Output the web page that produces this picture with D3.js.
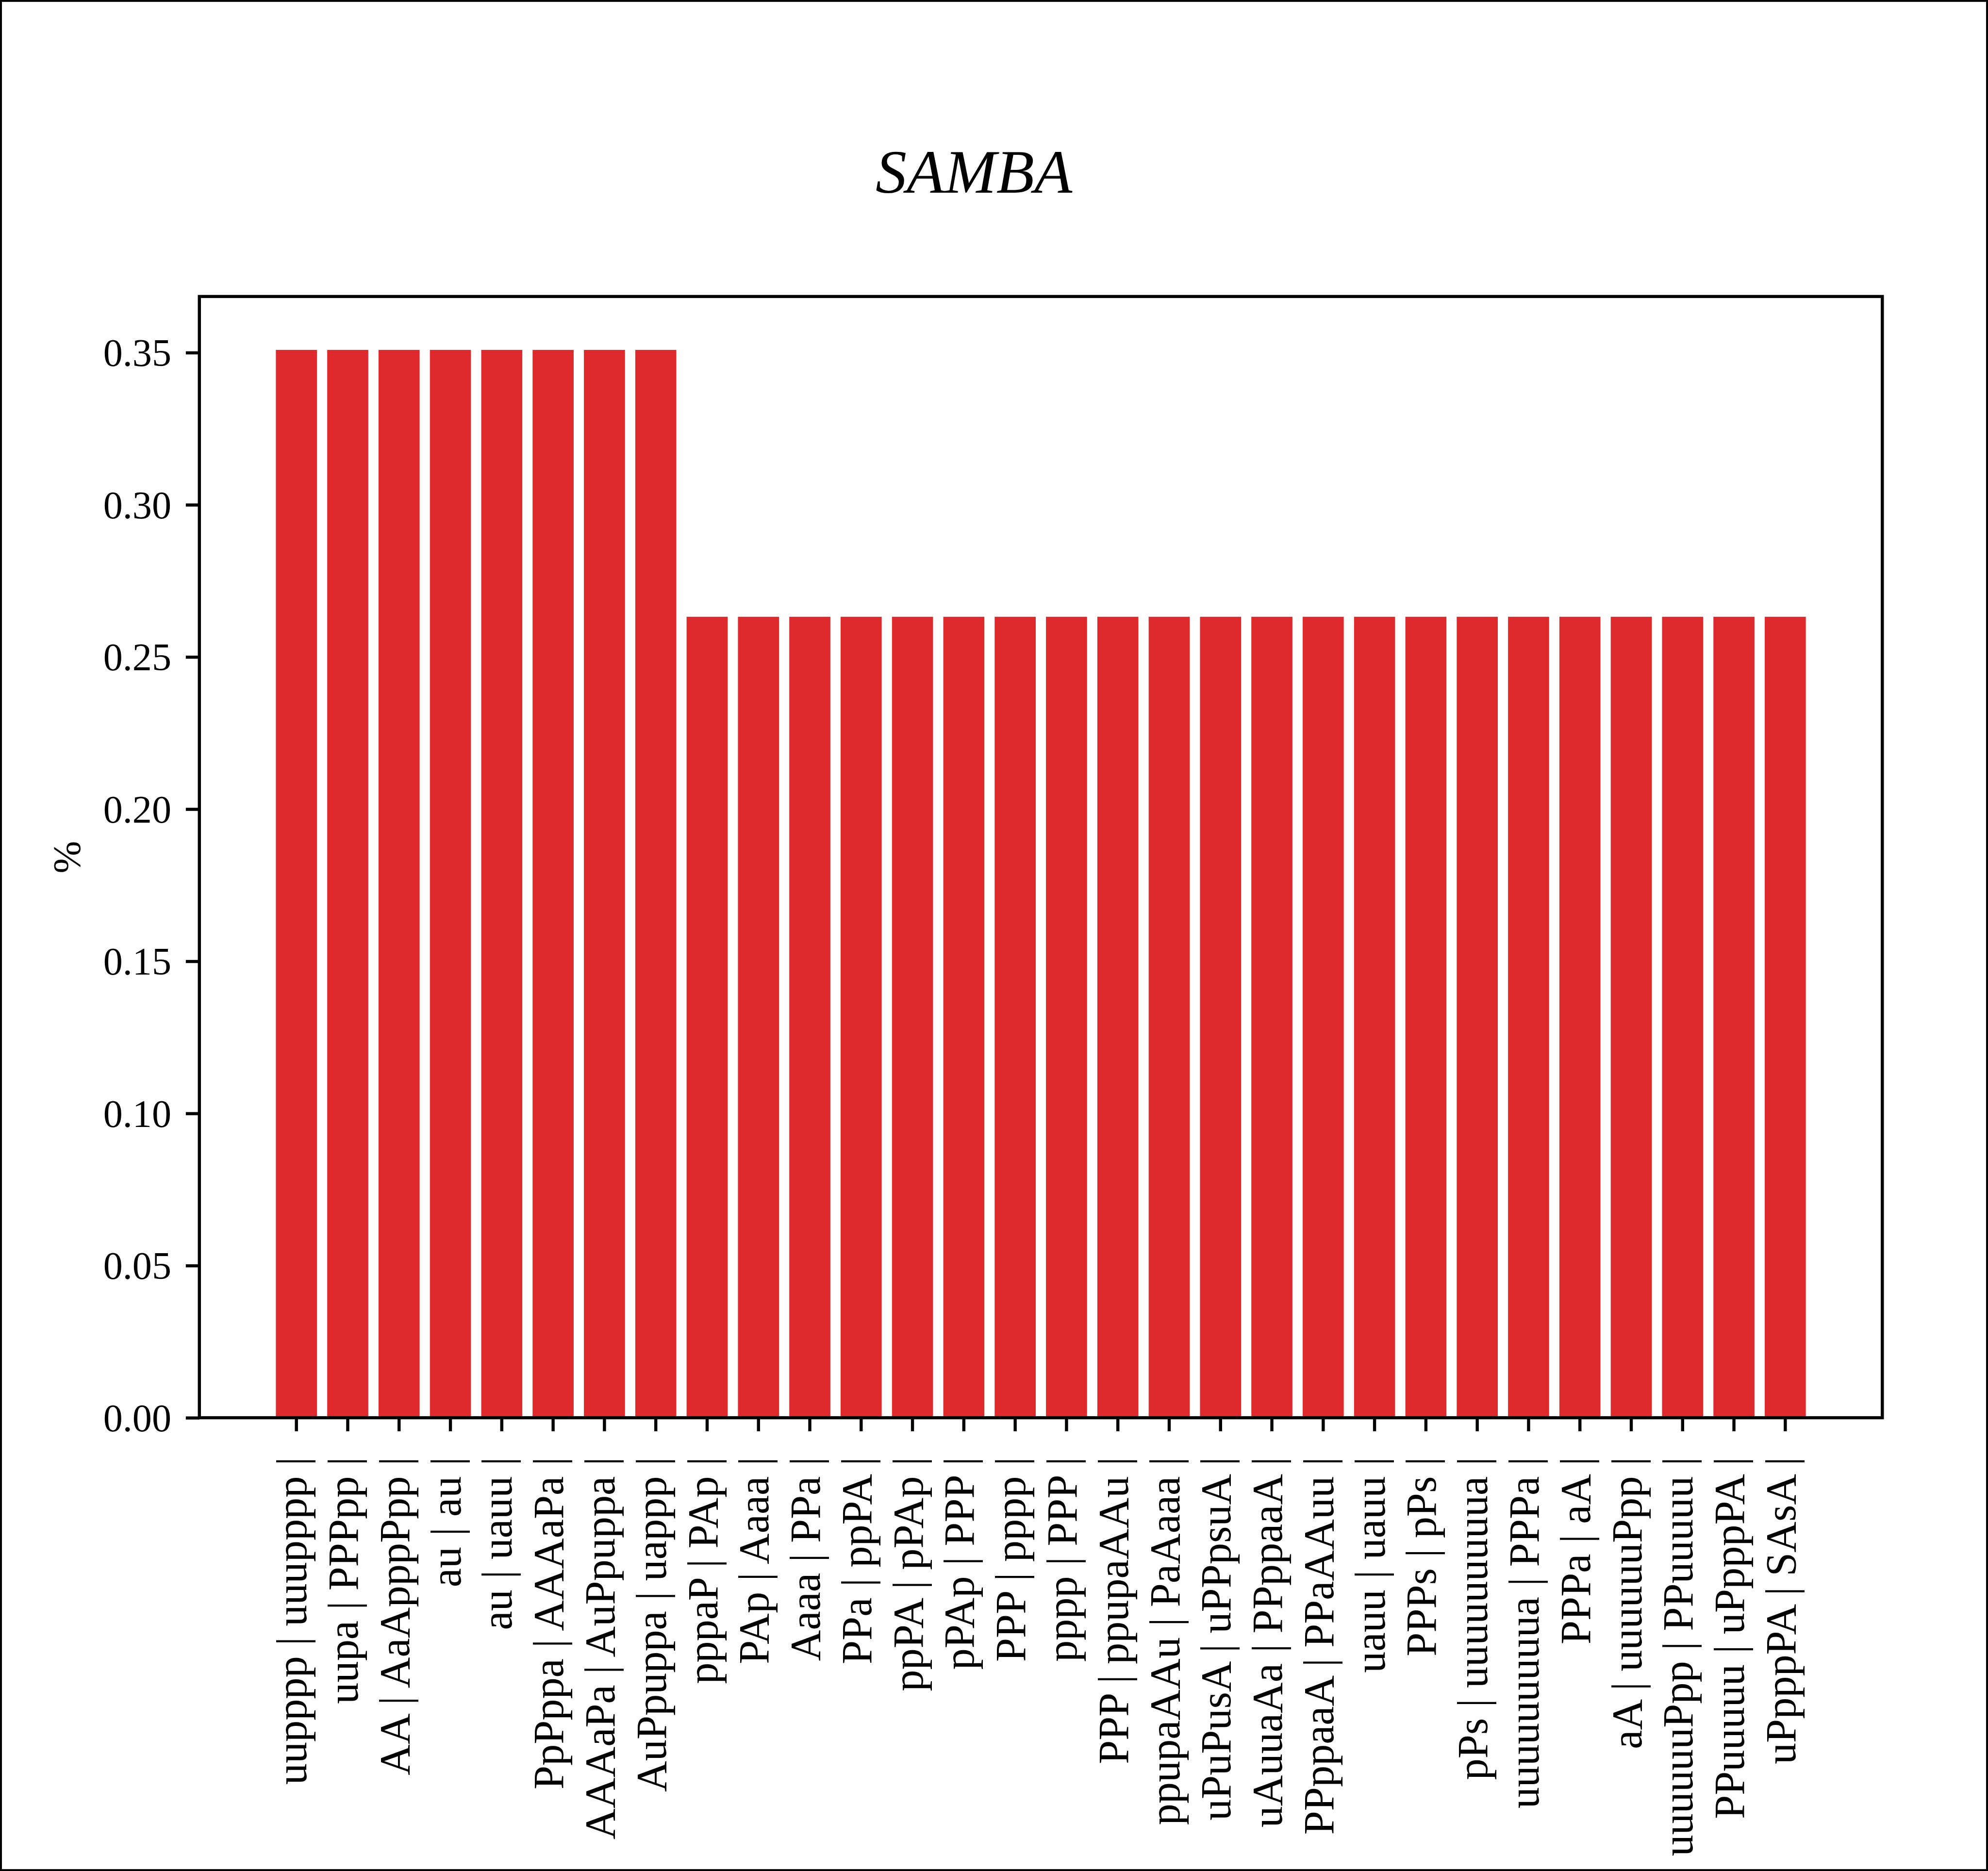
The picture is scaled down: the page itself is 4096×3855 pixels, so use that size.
<!DOCTYPE html>
<html>
<head>
<meta charset="utf-8">
<script src="https://cdn.jsdelivr.net/npm/d3@7"></script>
<style>
  html, body { margin: 0; padding: 0; background: #ffffff; overflow: hidden; }
  svg { display: block; }
</style>
</head>
<body>
<svg id="chart"></svg>
<script>
// ---------------- data ----------------
const categories = [
  "uupppp | uuupppp |",
  "uupa | PPPpp |",
  "AA | AaApppPpp |",
  "au | au |",
  "au | uauu |",
  "PpPppa | AAAaPa |",
  "AAAaPa | AuPpuppa |",
  "AuPpuppa | uappp |",
  "pppaP | PAp |",
  "PAp | Aaaa |",
  "Aaaa | PPa |",
  "PPa | ppPA |",
  "ppPA | pPAp |",
  "pPAp | PPP |",
  "PPP | pppp |",
  "pppp | PPP |",
  "PPP | ppupaAAu |",
  "ppupaAAu | PaAaaa |",
  "uPuPusA | uPPpsuA |",
  "uAuuaAa | PPppaaA |",
  "PPppaaA | PPaAAuu |",
  "uauu | uauu |",
  "PPPs | pPs |",
  "pPs | uuuuuuuuua |",
  "uuuuuuuuua | PPPa |",
  "PPPa | aA |",
  "aA | uuuuuuPpp |",
  "uuuuuuPpp | PPuuuuu |",
  "PPuuuuu | uPpppPA |",
  "uPpppPA | SAsA |"
];
const values = [
  0.3509, 0.3509, 0.3509, 0.3509, 0.3509, 0.3509, 0.3509, 0.3509,
  0.2632, 0.2632, 0.2632, 0.2632, 0.2632, 0.2632, 0.2632, 0.2632,
  0.2632, 0.2632, 0.2632, 0.2632, 0.2632, 0.2632, 0.2632, 0.2632,
  0.2632, 0.2632, 0.2632, 0.2632, 0.2632, 0.2632
];
const yTickValues = [0.00, 0.05, 0.10, 0.15, 0.20, 0.25, 0.30, 0.35];
const yTickLabels = ["0.00", "0.05", "0.10", "0.15", "0.20", "0.25", "0.30", "0.35"];
const chartTitle = "SAMBA";
const yAxisLabel = "%";

// ---------------- layout (reference pixel space, scaled by viewBox) ----------------
const W = 4254, H = 4004;
const FONT = "'Liberation Serif', 'Times New Roman', Times, serif";
const BAR_COLOR = "#de2a2d";
const LW = 6.67;           // 0.8pt at 600dpi
const TICK = 29;           // 3.5pt
const m = { left: 426.5, right: 4028, top: 634.5, bottom: 3034 };

const svg = d3.select("#chart")
  .attr("width", 4096)
  .attr("height", 3855)
  .attr("viewBox", `0 0 ${W} ${H}`);

svg.append("rect").attr("x", 0).attr("y", 0).attr("width", W).attr("height", H).attr("fill", "#ffffff");

const x = d3.scaleBand()
  .domain(categories)
  .range([m.left, m.right])
  .paddingInner(0.2)
  .paddingOuter(1.49)
  .align(0.5);

const yMax = d3.max(values) * 1.05;
const y = d3.scaleLinear().domain([0, yMax]).range([m.bottom, m.top]);

// bars
svg.append("g")
  .selectAll("rect")
  .data(categories.map((c, i) => ({ c, v: values[i] })))
  .join("rect")
  .attr("x", d => x(d.c))
  .attr("width", x.bandwidth())
  .attr("y", d => y(d.v))
  .attr("height", d => y(0) - y(d.v))
  .attr("fill", BAR_COLOR);

// x axis
const xAxis = svg.append("g")
  .attr("transform", `translate(0,${m.bottom})`)
  .call(d3.axisBottom(x).tickSize(TICK).tickSizeOuter(0));
xAxis.select(".domain").remove();
xAxis.selectAll(".tick line").attr("stroke", "#000").attr("stroke-width", LW);
xAxis.selectAll(".tick text")
  .attr("x", null)
  .attr("y", null)
  .attr("dy", "0.233em")
  .attr("transform", `translate(0,${84}) rotate(-90)`)
  .attr("text-anchor", "end")
  .attr("fill", "#000")
  .style("font-family", FONT)
  .style("font-size", "91.7px");

// y axis
const yAxis = svg.append("g")
  .attr("transform", `translate(${m.left},0)`)
  .call(d3.axisLeft(y)
    .tickValues(yTickValues)
    .tickFormat((d, i) => yTickLabels[i])
    .tickSize(TICK)
    .tickSizeOuter(0)
    .tickPadding(31));
yAxis.select(".domain").remove();
yAxis.selectAll(".tick line").attr("stroke", "#000").attr("stroke-width", LW);
yAxis.selectAll(".tick text")
  .attr("dy", "0.34em")
  .attr("fill", "#000")
  .style("font-family", FONT)
  .style("font-size", "83.3px");

// axes frame (spines)
svg.append("rect")
  .attr("x", m.left)
  .attr("y", m.top)
  .attr("width", m.right - m.left)
  .attr("height", m.bottom - m.top)
  .attr("fill", "none")
  .attr("stroke", "#000")
  .attr("stroke-width", LW)
  .attr("stroke-linejoin", "miter");

// title
svg.append("text")
  .attr("x", 2084)
  .attr("y", 412)
  .attr("text-anchor", "middle")
  .style("font-family", FONT)
  .style("font-style", "italic")
  .style("font-size", "133px")
  .attr("fill", "#000")
  .text(chartTitle);

// y label
svg.append("text")
  .attr("transform", `translate(171,${(m.top + m.bottom) / 2}) rotate(-90)`)
  .attr("text-anchor", "middle")
  .style("font-family", FONT)
  .style("font-size", "83.3px")
  .attr("fill", "#000")
  .text(yAxisLabel);

// figure border
svg.append("rect")
  .attr("x", 0).attr("y", 0).attr("width", W).attr("height", H)
  .attr("fill", "none")
  .attr("stroke", "#000")
  .attr("stroke-width", 8);
</script>
</body>
</html>
